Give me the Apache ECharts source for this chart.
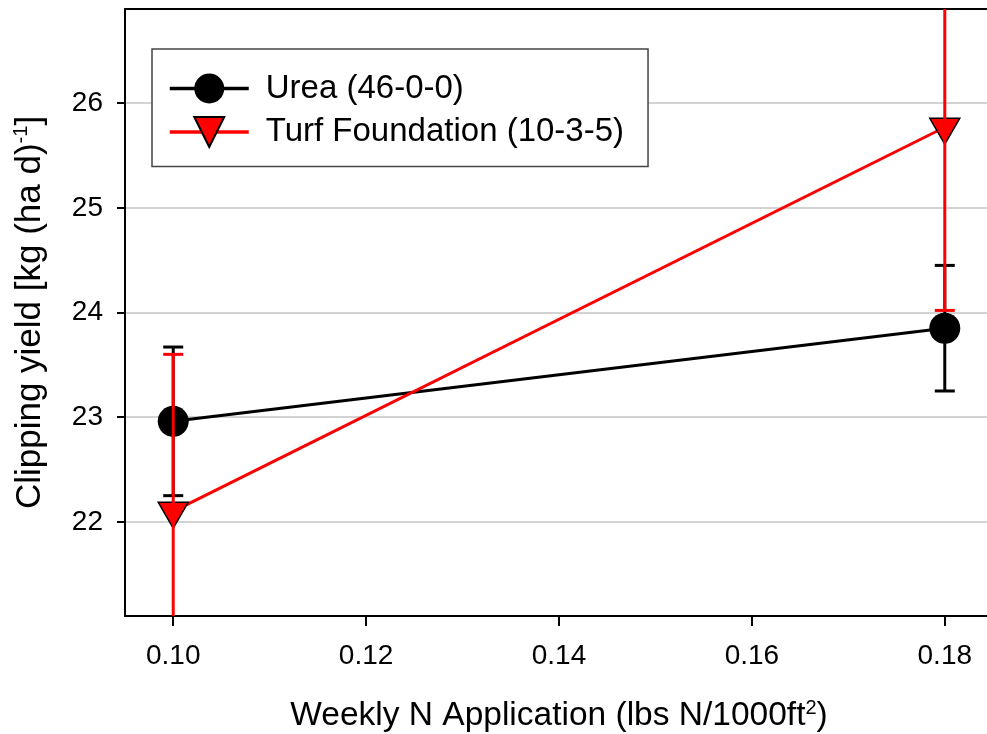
<!DOCTYPE html>
<html><head><meta charset="utf-8">
<script src="https://cdn.jsdelivr.net/npm/echarts@6/dist/echarts.min.js"></script>
<style>html,body{margin:0;padding:0;background:#fff}#c{width:987px;height:734px}</style>
</head><body><div id="c"></div>
<script>
const nRates = [0.10, 0.18];
const ureaMean = [22.96, 23.85];
const ureaErr = [0.71, 0.60];
const turfMean = [22.10, 25.77];
const turfErr = [1.50, 1.75];
const xTicks = [0.10, 0.12, 0.14, 0.16, 0.18];
const yTicks = [22, 23, 24, 25, 26];
const seriesNames = ['Urea (46-0-0)', 'Turf Foundation (10-3-5)'];

const FONT = '"Liberation Sans", Arial, sans-serif';
const TRI = 'path://M0,0L2,0L1,1.732Z';

function errorSeries(name, means, errs, color, z) {
  return {
    type: 'custom', name: name + ' error', z: z, clip: true, silent: true,
    xAxisIndex: 0, yAxisIndex: 0,
    data: nRates.map((x, i) => [x, means[i] - errs[i], means[i] + errs[i]]),
    encode: { x: 0, y: [1, 2] },
    renderItem: function (params, api) {
      const lo = api.coord([api.value(0), api.value(1)]);
      const hi = api.coord([api.value(0), api.value(2)]);
      const hw = 10;
      const style = { stroke: color, lineWidth: 3 };
      return { type: 'group', children: [
        { type: 'line', shape: { x1: lo[0], y1: lo[1], x2: hi[0], y2: hi[1] }, style: style },
        { type: 'line', shape: { x1: lo[0] - hw, y1: lo[1], x2: lo[0] + hw, y2: lo[1] }, style: style },
        { type: 'line', shape: { x1: hi[0] - hw, y1: hi[1], x2: hi[0] + hw, y2: hi[1] }, style: style }
      ]};
    }
  };
}

const chart = echarts.init(document.getElementById('c'), null, { renderer: 'canvas' });
const intFmt = v => (Math.abs(v - Math.round(v)) < 1e-6 ? String(Math.round(v)) : '');
const xFmt = v => { const r = Math.round(v * 100) / 100; return Math.abs(v - r) < 1e-6 && Math.round(r * 100) % 2 === 0 ? r.toFixed(2) : ''; };

chart.setOption({
  animation: false,
  backgroundColor: '#fff',
  textStyle: { fontFamily: FONT },
  grid: { left: 125, top: 9, width: 868, height: 607, containLabel: false, outerBoundsMode: 'none' },
  legend: {
    data: seriesNames, orient: 'vertical', left: 152, top: 49,
    padding: [23, 24, 18, 16], itemWidth: 79, itemHeight: 37.5, itemGap: 10.5,
    backgroundColor: '#fff', borderColor: '#444', borderWidth: 1.5,
    selectedMode: false,
    lineStyle: { width: 3.5 },
    formatter: '{n|{name}}',
    textStyle: { color: '#000', fontFamily: FONT, rich: { n: { fontSize: 33, lineHeight: 37, padding: [0, 0, 0, 12], color: '#000', fontFamily: FONT } } }
  },
  xAxis: [{
    type: 'value', min: 0.095, max: 0.185,
    axisLine: { show: true, onZero: false, lineStyle: { color: '#000', width: 2 } },
    axisTick: { show: true, length: 10, lineStyle: { color: '#000', width: 2 }, customValues: xTicks },
    axisLabel: { customValues: xTicks, formatter: xFmt, fontSize: 28, color: '#000', margin: 26, fontFamily: FONT },
    splitLine: { show: false },
    name: 'Weekly N Application (lbs N/1000ft{sup|2})',
    nameLocation: 'middle', nameGap: 82,
    nameTextStyle: { fontSize: 33.5, color: '#000', fontFamily: FONT, lineHeight: 36,
      rich: { sup: { fontSize: 20, lineHeight: 20, verticalAlign: 'top', color: '#000', fontFamily: FONT } } }
  }, {
    type: 'value', min: 0.095, max: 0.185, position: 'top',
    axisLine: { show: true, onZero: false, lineStyle: { color: '#000', width: 2 } },
    axisTick: { show: false }, axisLabel: { show: false }, splitLine: { show: false }
  }],
  yAxis: {
    type: 'value', min: 21.1, max: 26.9,
    axisLine: { show: true, onZero: false, lineStyle: { color: '#000', width: 2 } },
    axisTick: { show: true, length: 8, lineStyle: { color: '#000', width: 2 }, customValues: yTicks },
    axisLabel: { customValues: yTicks, formatter: intFmt, fontSize: 28, color: '#000', margin: 22, fontFamily: FONT },
    splitLine: { show: true, lineStyle: { color: '#c4c4c4', width: 1.5 } },
    name: 'Clipping yield [kg (ha d){sup|-1}]',
    nameLocation: 'middle', nameRotate: 90, nameGap: 76,
    nameTextStyle: { fontSize: 35, color: '#000', fontFamily: FONT, lineHeight: 38,
      rich: { sup: { fontSize: 20, lineHeight: 20, verticalAlign: 'top', color: '#000', fontFamily: FONT } } }
  },
  series: [
    {
      name: seriesNames[0], type: 'line', z: 2, xAxisIndex: 0,
      data: nRates.map((x, i) => [x, ureaMean[i]]),
      symbol: 'circle', symbolSize: 31, showSymbol: true,
      lineStyle: { color: '#000', width: 3 },
      itemStyle: { color: '#000', borderColor: '#000', borderWidth: 0 }
    },
    errorSeries('urea', ureaMean, ureaErr, '#000', 3),
    {
      name: seriesNames[1], type: 'line', z: 4, xAxisIndex: 0,
      data: nRates.map((x, i) => [x, turfMean[i]]),
      symbol: TRI, symbolSize: 30, symbolKeepAspect: true, symbolOffset: [0, 4], showSymbol: true,
      lineStyle: { color: '#ff0000', width: 3 },
      itemStyle: { color: '#ff0000', borderColor: '#000', borderWidth: 1.5 }
    },
    errorSeries('turf', turfMean, turfErr, '#ff0000', 5)
  ]
});
</script>
</body></html>
